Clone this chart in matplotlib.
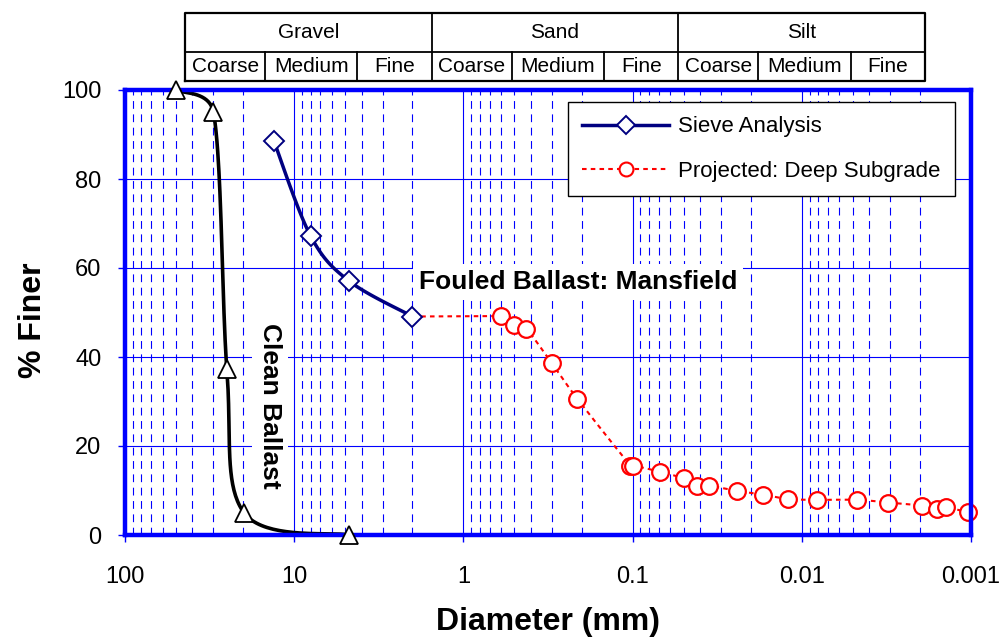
import numpy as np
import matplotlib
matplotlib.use("Agg")
import matplotlib.pyplot as plt
from matplotlib.ticker import LogLocator, NullFormatter, FixedLocator
from matplotlib.lines import Line2D

plt.rcParams['font.family'] = ['Liberation Sans', 'DejaVu Sans']

# ---------------- data ----------------
clean_d = [50, 30, 25, 19.8, 4.75]
clean_p = [100, 95, 37.2, 5, 0]

sieve_d = [13.2, 8.0, 4.75, 2.0]
sieve_p = [88.6, 67.2, 57.1, 49.1]

proj_d = [0.6, 0.5, 0.425, 0.3, 0.212, 0.103, 0.099, 0.0685, 0.050, 0.0414,
          0.0355, 0.024, 0.017, 0.0121, 0.0081, 0.0047, 0.0031, 0.00195,
          0.00158, 0.0014, 0.00104]
proj_p = [49.2, 47.2, 46.3, 38.6, 30.6, 15.6, 15.6, 14.2, 12.7, 11.1,
          11.1, 9.9, 9.1, 8.1, 7.9, 7.9, 7.3, 6.6, 5.8, 6.2, 5.1]

x_ticks = [100, 10, 1, 0.1, 0.01, 0.001]
x_tick_labels = ['100', '10', '1', '0.1', '0.01', '0.001']
y_ticks = [0, 20, 40, 60, 80, 100]

main_classes = ['Gravel', 'Sand', 'Silt']
sub_classes = ['Coarse', 'Medium', 'Fine']

BLUE = '#0000FF'
NAVY = '#000080'

W, H = 1005, 644
fig = plt.figure(figsize=(W / 100, H / 100), dpi=100)
L, R, T, B = 125, 971, 90, 535
ax = fig.add_axes([L / W, 1 - B / H, (R - L) / W, (B - T) / H])
ax.set_xscale('log')
ax.set_xlim(100, 0.001)
ax.set_ylim(0, 100)

sx = (R - L) / 5.0     # px per decade
sy = (B - T) / 100.0   # px per percent


def smooth(xd, yd, k=0.5, n=40):
    u = np.log10(np.asarray(xd, float)) * sx
    v = np.asarray(yd, float) * sy
    P = np.column_stack([u, v])
    m = len(P)
    out = [P[0]]
    t = np.linspace(0, 1, n)[1:, None]
    for i in range(m - 1):
        p0 = P[max(i - 1, 0)]
        p1 = P[i]
        p2 = P[i + 1]
        p3 = P[min(i + 2, m - 1)]
        chord = np.linalg.norm(p2 - p1)
        h1 = (p2 - p0) / 6.0
        h2 = (p3 - p1) / 6.0
        for h in (h1, h2):
            nh = np.linalg.norm(h)
            if nh > k * chord and nh > 0:
                h *= k * chord / nh
        c1 = p1 + h1
        c2 = p2 - h2
        Bz = ((1 - t) ** 3) * p1 + 3 * ((1 - t) ** 2) * t * c1 + 3 * (1 - t) * t ** 2 * c2 + t ** 3 * p2
        out.extend(Bz)
    out = np.array(out)
    return 10 ** (out[:, 0] / sx), out[:, 1] / sy


# grid
ax.set_axisbelow(True)
ax.xaxis.set_major_locator(FixedLocator(x_ticks))
ax.set_xticklabels(x_tick_labels)
ax.xaxis.set_minor_locator(LogLocator(base=10, subs=np.arange(2, 10), numticks=20))
ax.xaxis.set_minor_formatter(NullFormatter())
ax.set_yticks(y_ticks)
ax.grid(which='major', axis='both', color=BLUE, lw=0.8)
ax.grid(which='minor', axis='x', color=BLUE, lw=0.8, ls=(0, (7, 5)))
ax.tick_params(which='minor', length=0)
ax.tick_params(axis='both', which='major', labelsize=17, direction='out',
               length=5, color=BLUE, width=1)
ax.tick_params(axis='x', pad=17)
ax.tick_params(axis='y', pad=12)
for s in ax.spines.values():
    s.set_color(BLUE)
    s.set_linewidth(3.2)
    s.set_zorder(6)

# clean ballast
xs, ys = smooth(clean_d, clean_p)
ax.plot(xs, ys, color='black', lw=2.6, zorder=4, clip_on=False)
ax.plot(clean_d, clean_p, ls='none', marker='^', ms=13, mfc='white',
        mec='black', mew=1.3, zorder=7, clip_on=False)

# sieve analysis
xs, ys = smooth(sieve_d, sieve_p)
ax.plot(xs, ys, color=NAVY, lw=2.5, zorder=4, clip_on=False)
ax.plot(sieve_d, sieve_p, ls='none', marker='D', ms=10, mfc='white',
        mec=NAVY, mew=1.4, zorder=5, clip_on=False)

# projected
red_ls = (0, (2.2, 2))
ax.plot([sieve_d[-1], proj_d[0]], [sieve_p[-1], proj_p[0]], color='red',
        lw=1.5, ls=red_ls, zorder=3)
xs, ys = smooth(proj_d, proj_p)
ax.plot(xs, ys, color='red', lw=1.5, ls=red_ls, zorder=4, clip_on=False)
ax.plot(proj_d, proj_p, ls='none', marker='o', ms=12, mfc='white',
        mec='red', mew=1.6, zorder=5, clip_on=False)

# legend
h1 = Line2D([], [], color=NAVY, lw=2.5, marker='D', ms=9, mfc='white', mec=NAVY, mew=1.4)
h2 = Line2D([], [], color='red', lw=1.5, ls=red_ls, marker='o', ms=10, mfc='white', mec='red', mew=1.5)
leg = ax.legend([h1, h2], ['Sieve Analysis', 'Projected: Deep Subgrade'],
                loc='upper left', bbox_to_anchor=((568 - L) / (R - L), (B - 102) / (B - T)),
                borderaxespad=0, fontsize=16, handlelength=3.9, handletextpad=0.4,
                labelspacing=1.05, borderpad=0.65, fancybox=False, framealpha=1,
                edgecolor='black', numpoints=1)
leg.get_frame().set_linewidth(1.0)
leg.set_zorder(8)

# annotations
ax.text((578 - L) / (R - L), (B - 282) / (B - T), 'Fouled Ballast: Mansfield',
        transform=ax.transAxes, ha='center', va='center', fontsize=19,
        fontweight='bold', zorder=3,
        bbox=dict(facecolor='white', edgecolor='none', pad=4))
ax.text((270 - L) / (R - L), (B - 406) / (B - T), 'Clean Ballast',
        transform=ax.transAxes, ha='center', va='center', fontsize=19,
        fontweight='bold', rotation=-90, zorder=3,
        bbox=dict(facecolor='white', edgecolor='none', pad=4))

# axis labels
ax.set_xlabel('Diameter (mm)', fontsize=23, fontweight='bold')
ax.xaxis.set_label_coords(0.5, (B - 622) / (B - T))
ax.xaxis.label.set_va('center')
ax.set_ylabel('% Finer', fontsize=23, fontweight='bold')
ax.yaxis.set_label_coords((33 - L) / (R - L), (B - 320) / (B - T))
ax.yaxis.label.set_va('center')

# classification table
tx0, tx1, ty0, ty1 = 185, 925, 13, 81
ymid = 52
axt = fig.add_axes([tx0 / W, 1 - ty1 / H, (tx1 - tx0) / W, (ty1 - ty0) / H])
axt.set_xlim(0, 1)
axt.set_ylim(0, 1)
axt.axis('off')
split = (ty1 - ymid) / (ty1 - ty0)
sub_frac = [0, 0.325, 0.699, 1.0]
lwt = 1.3
axt.plot([0, 1, 1, 0, 0], [0, 0, 1, 1, 0], color='black', lw=1.6, clip_on=False)
axt.plot([0, 1], [split, split], color='black', lw=lwt, clip_on=False)
ng = len(main_classes)
for g, name in enumerate(main_classes):
    gx0 = g / ng
    gw = 1 / ng
    if g > 0:
        axt.plot([gx0, gx0], [0, 1], color='black', lw=lwt, clip_on=False)
    axt.text(gx0 + gw / 2, (split + 1) / 2, name, ha='center', va='center', fontsize=15)
    for j, sname in enumerate(sub_classes):
        a = gx0 + gw * sub_frac[j]
        b = gx0 + gw * sub_frac[j + 1]
        if j > 0:
            axt.plot([a, a], [0, split], color='black', lw=lwt, clip_on=False)
        axt.text((a + b) / 2, split / 2, sname, ha='center', va='center', fontsize=15)

fig.savefig('out.png', dpi=100)
